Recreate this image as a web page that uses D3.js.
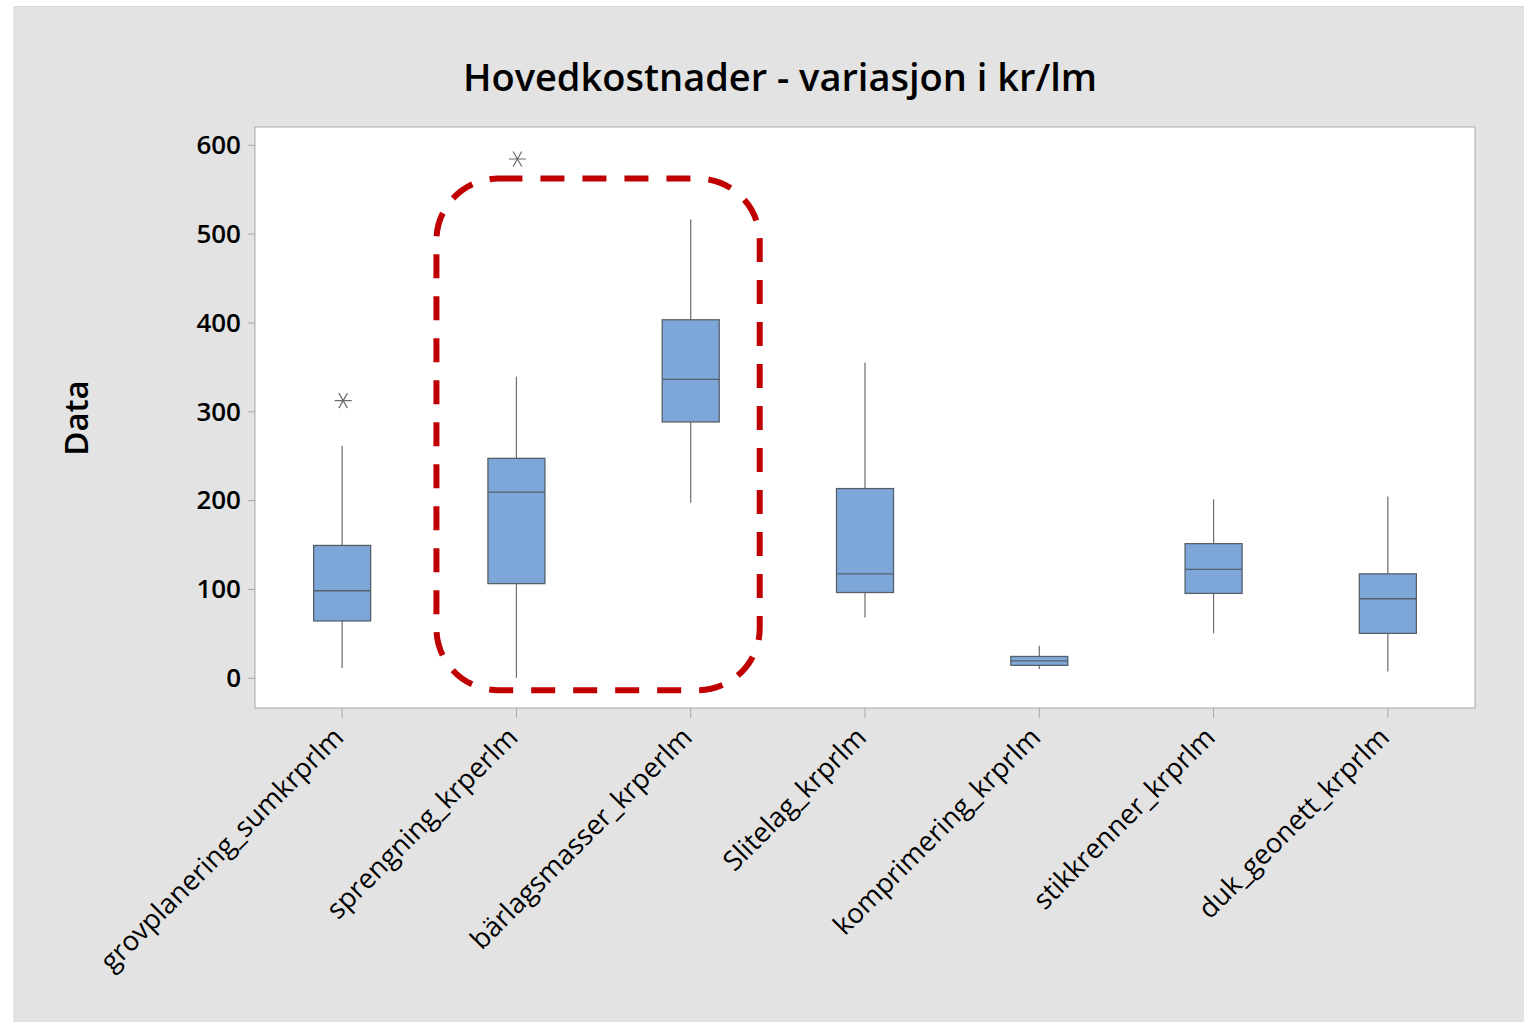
<!DOCTYPE html>
<html>
<head>
<meta charset="utf-8">
<script src="https://cdn.jsdelivr.net/npm/d3@7"></script>
<style>
  body { margin: 0; background: #fff; }
  text { font-family: "Open Sans", "Noto Sans", sans-serif; }
</style>
</head>
<body>
<div id="chart"></div>
<script>
// categories and five-number summaries
const categories = [
    "grovplanering_sumkrprlm",
    "sprengning_krperlm",
    "bärlagsmasser_krperlm",
    "Slitelag_krprlm",
    "komprimering_krprlm",
    "stikkrenner_krprlm",
    "duk_geonett_krprlm"
];
const whiskerLow  = [11, 0, 197, 68, 10, 50, 7];
const q1          = [64, 106, 288, 96, 14, 95, 50];
const median      = [98, 209, 336, 117, 19, 122, 89];
const q3          = [149, 247, 403, 213, 24, 151, 117];
const whiskerHigh = [261, 339, 516, 355, 36, 201, 204];
const outliers    = [[312], [584], [], [], [], [], []];
const yTicks      = [0, 100, 200, 300, 400, 500, 600];

const width = 1524, height = 1022;
const margin = {top: 127, right: 49, bottom: 314, left: 255};
const innerWidth = width - margin.left - margin.right;
const innerHeight = height - margin.top - margin.bottom;

const svg = d3.select("#chart").append("svg")
    .attr("width", width)
    .attr("height", height);

// grey backdrop
svg.append("rect")
    .attr("x", 14).attr("y", 6)
    .attr("width", width - 14).attr("height", height - 6)
    .attr("fill", "#e3e3e3");
svg.append("path")
    .attr("d", `M14,${height} V6.5 H${width}`)
    .attr("fill", "none").attr("stroke", "#d6d6d6");

const g = svg.append("g")
    .attr("transform", `translate(${margin.left}, ${margin.top})`);

const x = d3.scaleBand().domain(categories).range([0, innerWidth]).padding(0);
const y = d3.scaleLinear().domain([-34, 620]).range([innerHeight, 0]);

g.append("rect")
    .attr("width", innerWidth).attr("height", innerHeight)
    .attr("fill", "#fff").attr("stroke", "#a8a8a8");

// axes
const yAxis = g.append("g")
    .call(d3.axisLeft(y).tickValues(yTicks).tickSize(7).tickPadding(7));
yAxis.select(".domain").remove();
yAxis.selectAll("line").attr("stroke", "#a8a8a8");
yAxis.selectAll("text")
    .attr("fill", "#000")
    .style("font-size", "26px")
    .style("font-weight", 600)
    .attr("dy", "0.34em");

const xAxis = g.append("g")
    .attr("transform", `translate(0, ${innerHeight})`)
    .call(d3.axisBottom(x).tickSize(10).tickPadding(8));
xAxis.select(".domain").remove();
xAxis.selectAll("line").attr("stroke", "#a8a8a8");
xAxis.selectAll("text")
    .attr("fill", "#000")
    .attr("y", 0)
    .attr("dy", 0)
    .style("font-size", "27.4px")
    .style("text-anchor", "end")
    .attr("transform", "translate(3, 31) rotate(-45)");

// boxes
const boxW = 57;
const boxes = g.selectAll("g.box")
    .data(categories)
    .join("g")
    .attr("class", "box")
    .attr("transform", d => `translate(${x(d) + x.bandwidth() / 2}, 0)`);

boxes.append("line")
    .attr("y1", (d, i) => y(whiskerHigh[i]))
    .attr("y2", (d, i) => y(q3[i]))
    .attr("stroke", "#6b6b6b").attr("stroke-width", 1.2);
boxes.append("line")
    .attr("y1", (d, i) => y(q1[i]))
    .attr("y2", (d, i) => y(whiskerLow[i]))
    .attr("stroke", "#6b6b6b").attr("stroke-width", 1.2);
boxes.append("rect")
    .attr("x", -boxW / 2)
    .attr("y", (d, i) => y(q3[i]))
    .attr("width", boxW)
    .attr("height", (d, i) => y(q1[i]) - y(q3[i]))
    .attr("fill", "#7da7d9")
    .attr("stroke", "#56606b").attr("stroke-width", 1.3);
boxes.append("line")
    .attr("x1", -boxW / 2).attr("x2", boxW / 2)
    .attr("y1", (d, i) => y(median[i]))
    .attr("y2", (d, i) => y(median[i]))
    .attr("stroke", "#56606b").attr("stroke-width", 1.3);

// outliers as asterisks (horizontal bar plus two diagonals)
const star = d3.symbol().type(d3.symbolAsterisk).size(210);
boxes.each(function(d, i) {
    d3.select(this).selectAll("path.outlier")
        .data(outliers[i])
        .join("path")
        .attr("class", "outlier")
        .attr("d", star)
        .attr("transform", v => `translate(1, ${y(v)}) rotate(90)`)
        .attr("fill", "none")
        .attr("stroke", "#6b6b6b").attr("stroke-width", 1.2);
});

// red dashed highlight around sprengning and bärlagsmasser
const hlLeft = x(categories[1]) + x.bandwidth() / 2 - 80;
const hlRight = x(categories[2]) + x.bandwidth() / 2 + 69;
g.append("rect")
    .attr("x", hlLeft).attr("y", y(562))
    .attr("width", hlRight - hlLeft)
    .attr("height", y(-14) - y(562))
    .attr("rx", 62).attr("ry", 62)
    .attr("fill", "none")
    .attr("stroke", "#c00000").attr("stroke-width", 6)
    .attr("stroke-dasharray", "24 18");

// titles
svg.append("text")
    .attr("x", 780).attr("y", 91)
    .attr("text-anchor", "middle")
    .style("font-size", "38px").style("font-weight", 600)
    .text("Hovedkostnader - variasjon i kr/lm");

svg.append("text")
    .attr("transform", `translate(88, 418) rotate(-90)`)
    .attr("text-anchor", "middle")
    .style("font-size", "33px").style("font-weight", 600)
    .text("Data");
</script>
</body>
</html>
